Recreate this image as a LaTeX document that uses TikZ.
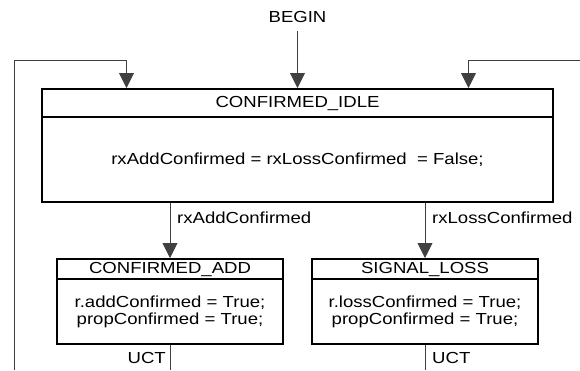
\documentclass[tikz,border=0pt]{standalone}
\usepackage{fontspec}
\setmainfont{Liberation Sans}[FakeStretch=1.16]
\usetikzlibrary{arrows.meta}
\begin{document}
\begin{tikzpicture}[x=1pt,y=-1pt,
  every node/.style={font=\fontsize{16}{17}\selectfont, inner sep=0pt},
  box/.style={draw=black, line width=2pt, rectangle, align=center, anchor=north},
  conn/.style={draw=black!75, line width=0.9pt},
  arr/.style={conn, -{Triangle[width=15pt,length=15pt]}},
  lbl/.style={anchor=west}
]
\useasboundingbox (0,0) rectangle (580,370);
% main state
\node[box, minimum width=511pt, minimum height=28pt] (idleT) at (297.5,88) {CONFIRMED\_IDLE};
\node[box, minimum width=511pt, minimum height=85pt] (idleB) at (297.5,116) {rxAddConfirmed = rxLossConfirmed\ \ = False;};
% lower states
\node[box, minimum width=226pt, minimum height=20pt] (addT) at (170,258) {CONFIRMED\_ADD};
\node[box, minimum width=226pt, minimum height=65pt] (addB) at (170,278) {r.addConfirmed = True;\\propConfirmed = True;};
\node[box, minimum width=226pt, minimum height=20pt] (lossT) at (425,258) {SIGNAL\_LOSS};
\node[box, minimum width=226pt, minimum height=65pt] (lossB) at (425,278) {r.lossConfirmed = True;\\propConfirmed = True;};
% begin
\node[minimum height=28pt] (begin) at (297.5,17) {BEGIN};
\draw[arr] (begin.south) -- (idleT.north);
% loops
\coordinate (lb) at (14,370);
\coordinate (lt) at (14,60);
\coordinate (rt) at (580,60);
\draw[arr] (lb) -- (lt) -| ([xshift=85.5pt]idleT.north west);
\draw[arr] (rt) -| ([xshift=-85.5pt]idleT.north east);
% transitions
\draw[arr] (addT.north |- idleB.south) -- (addT.north);
\draw[arr] (lossT.north |- idleB.south) -- (lossT.north);
\node[lbl] (l1) at (177,218) {rxAddConfirmed};
\node[lbl] (l2) at (432,218) {rxLossConfirmed};
% UCT
\coordinate (ua) at (170,370);
\coordinate (ub) at (425,370);
\draw[conn] (addB.south) -- (ua);
\draw[conn] (lossB.south) -- (ub);
\node[anchor=east] (u1) at (166,358) {UCT};
\node[anchor=west] (u2) at (432,358) {UCT};
\end{tikzpicture}
\end{document}
